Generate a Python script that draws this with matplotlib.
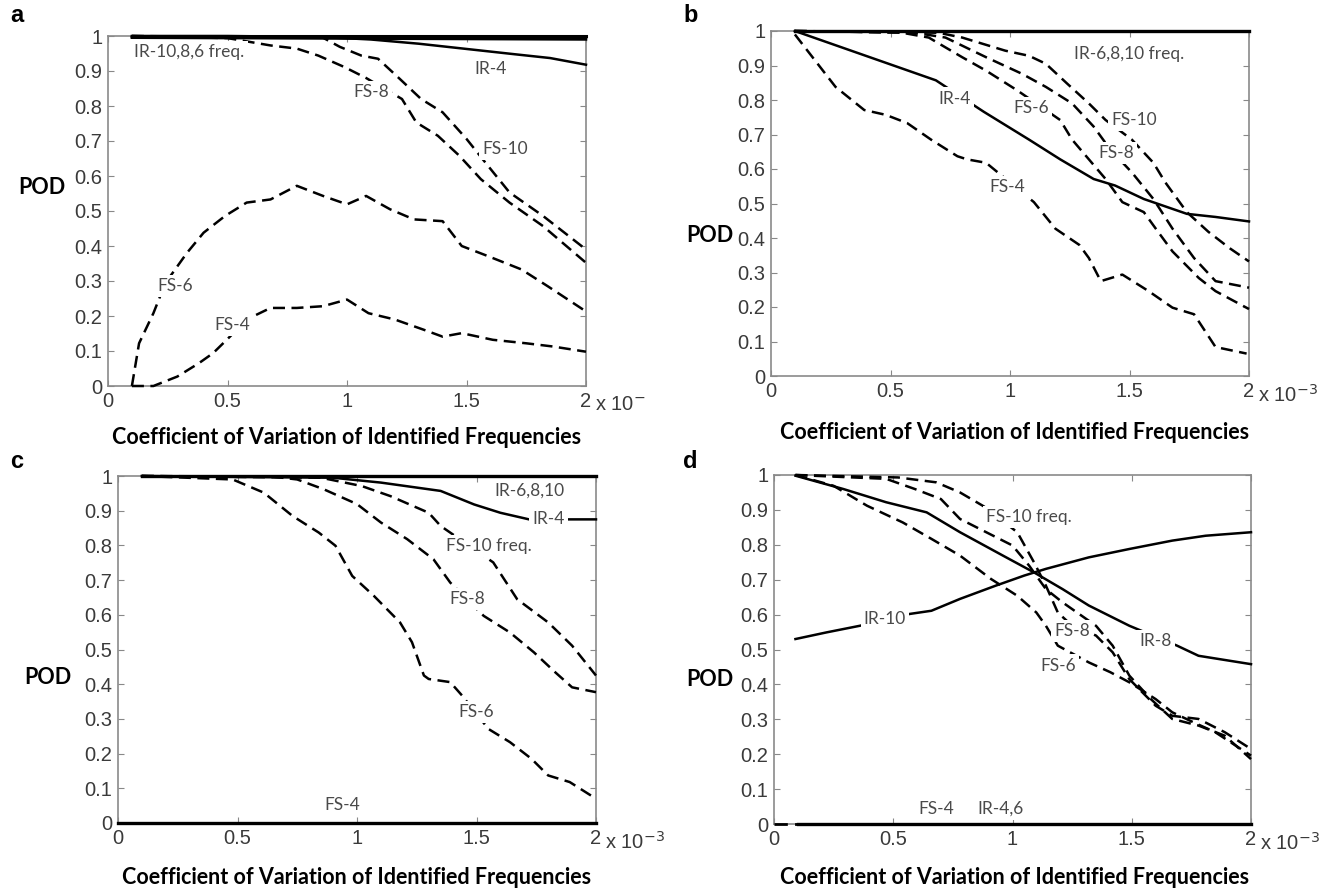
import numpy as np
import matplotlib.pyplot as plt

# ---- panel a ----
a_ir_x = [0.1, 2.0]
a_ir10 = [1.0, 1.0]
a_ir8 = [0.997, 0.995]
a_ir6 = [0.995, 0.99]
a_ir4_x = [0.1, 0.5, 0.9, 1.1, 1.3, 1.5, 1.7, 1.85, 2.0]
a_ir4_y = [1, 1, 0.997, 0.99, 0.978, 0.963, 0.948, 0.937, 0.918]
a_fs8_x = [0.1, 0.5, 0.68, 0.79, 0.88, 0.99, 1.08, 1.23, 1.29, 1.38, 1.47, 1.56, 1.68, 1.82, 2.0]
a_fs8_y = [1, 0.994, 0.973, 0.964, 0.944, 0.911, 0.88, 0.82, 0.753, 0.715, 0.658, 0.591, 0.524, 0.457, 0.352]
a_fs10_x = [0.1, 0.9, 0.97, 1.06, 1.13, 1.22, 1.31, 1.4, 1.5, 1.59, 1.68, 1.82, 2.0]
a_fs10_y = [1, 0.995, 0.969, 0.944, 0.935, 0.878, 0.82, 0.782, 0.706, 0.629, 0.553, 0.486, 0.39]
a_fs6_x = [0.1, 0.13, 0.19, 0.24, 0.33, 0.4, 0.49, 0.58, 0.68, 0.79, 0.9, 1.0, 1.08, 1.18, 1.28, 1.4,
           1.48, 1.59, 1.73, 1.84, 2.0]
a_fs6_y = [0, 0.122, 0.208, 0.294, 0.38, 0.438, 0.486, 0.524, 0.533, 0.572, 0.543, 0.519, 0.543, 0.505,
           0.476, 0.471, 0.4, 0.371, 0.333, 0.285, 0.213]
a_fs4_x = [0.1, 0.19, 0.29, 0.38, 0.44, 0.51, 0.58, 0.68, 0.79, 0.9, 1.0, 1.09, 1.2, 1.32, 1.4, 1.48,
           1.61, 1.75, 1.86, 2.0]
a_fs4_y = [0, 0, 0.027, 0.065, 0.094, 0.141, 0.19, 0.223, 0.223, 0.228, 0.247, 0.208, 0.19, 0.161,
           0.141, 0.151, 0.132, 0.122, 0.113, 0.098]

# ---- panel b ----
b_ir_x = [0.1, 2.0]
b_ir_y = [1.0, 1.0]
b_ir4_x = [0.1, 0.69, 0.89, 1.08, 1.21, 1.35, 1.44, 1.56, 1.74, 1.86, 2.0]
b_ir4_y = [1.0, 0.857, 0.766, 0.685, 0.628, 0.571, 0.552, 0.513, 0.47, 0.461, 0.448]
b_fs4_x = [0.1, 0.27, 0.39, 0.48, 0.57, 0.67, 0.78, 0.82, 0.9, 1.1, 1.19, 1.29, 1.33, 1.38, 1.47,
           1.58, 1.68, 1.77, 1.86, 1.99]
b_fs4_y = [0.99, 0.838, 0.771, 0.757, 0.733, 0.685, 0.637, 0.628, 0.618, 0.504, 0.427, 0.38, 0.342,
           0.275, 0.294, 0.246, 0.198, 0.179, 0.084, 0.065]
b_fs6_x = [0.1, 0.54, 0.66, 0.8, 0.9, 1.03, 1.21, 1.26, 1.33, 1.4, 1.47, 1.56, 1.61, 1.68, 1.79, 1.86, 2.0]
b_fs6_y = [1, 0.996, 0.981, 0.924, 0.885, 0.828, 0.742, 0.685, 0.628, 0.571, 0.504, 0.475, 0.427,
           0.361, 0.284, 0.246, 0.194]
b_fs8_x = [0.1, 0.6, 0.73, 0.9, 1.05, 1.15, 1.26, 1.35, 1.42, 1.51, 1.6, 1.68, 1.77, 1.86, 2.0]
b_fs8_y = [1, 0.995, 0.981, 0.924, 0.876, 0.838, 0.79, 0.723, 0.656, 0.59, 0.513, 0.427, 0.342, 0.275, 0.256]
b_fs10_x = [0.1, 0.7, 0.8, 0.98, 1.08, 1.15, 1.24, 1.33, 1.4, 1.51, 1.6, 1.65, 1.74, 1.83, 1.92, 2.0]
b_fs10_y = [1, 0.995, 0.981, 0.943, 0.928, 0.905, 0.847, 0.79, 0.742, 0.685, 0.618, 0.561, 0.475,
            0.418, 0.37, 0.332]

# ---- panel c ----
c_ir_x = [0.1, 2.0]
c_ir_y = [1.0, 1.0]
c_ir4_x = [0.1, 0.9, 1.1, 1.35, 1.49, 1.6, 1.72, 2.0]
c_ir4_y = [1, 0.995, 0.981, 0.957, 0.918, 0.894, 0.875, 0.875]
c_fs10_x = [0.1, 0.85, 1.02, 1.14, 1.25, 1.3, 1.35, 1.57, 1.67, 1.8, 1.9, 2.0]
c_fs10_y = [1, 0.995, 0.971, 0.942, 0.909, 0.894, 0.856, 0.751, 0.645, 0.578, 0.511, 0.425]
c_fs8_x = [0.1, 0.65, 0.75, 0.86, 1.0, 1.1, 1.21, 1.32, 1.39, 1.53, 1.64, 1.74, 1.83, 1.9, 2.0]
c_fs8_y = [1, 0.998, 0.99, 0.962, 0.919, 0.866, 0.818, 0.76, 0.693, 0.597, 0.549, 0.492, 0.434, 0.391, 0.377]
c_fs6_x = [0.1, 0.48, 0.61, 0.73, 0.84, 0.91, 0.98, 1.07, 1.18, 1.23, 1.28, 1.3, 1.39, 1.44, 1.55,
           1.64, 1.73, 1.8, 1.89, 2.0]
c_fs6_y = [1, 0.99, 0.952, 0.885, 0.837, 0.799, 0.712, 0.655, 0.578, 0.521, 0.425, 0.415, 0.406,
           0.367, 0.271, 0.233, 0.185, 0.137, 0.118, 0.07]
c_fs4_x = [0.0, 2.0]
c_fs4_y = [0.0, 0.0]

# ---- panel d ----
d_ir10_x = [0.09, 0.22, 0.36, 0.57, 0.66, 0.78, 0.93, 1.05, 1.14, 1.32, 1.49, 1.67, 1.81, 2.0]
d_ir10_y = [0.53, 0.549, 0.568, 0.602, 0.611, 0.645, 0.683, 0.712, 0.731, 0.764, 0.788, 0.812, 0.826, 0.836]
d_ir8_x = [0.09, 0.29, 0.47, 0.64, 0.78, 0.96, 1.09, 1.21, 1.32, 1.49, 1.69, 1.78, 2.0]
d_ir8_y = [0.998, 0.96, 0.922, 0.893, 0.836, 0.769, 0.721, 0.673, 0.626, 0.568, 0.511, 0.482, 0.458]
d_fs10_x = [0.09, 0.52, 0.68, 0.78, 0.88, 1.02, 1.09, 1.14, 1.19, 1.25, 1.35, 1.42, 1.49, 1.6, 1.67,
            1.78, 1.89, 2.0]
d_fs10_y = [1, 0.993, 0.979, 0.95, 0.91, 0.836, 0.75, 0.683, 0.606, 0.568, 0.54, 0.492, 0.415, 0.339,
            0.31, 0.301, 0.263, 0.215]
d_fs8_x = [0.09, 0.47, 0.59, 0.7, 0.78, 0.89, 1.0, 1.07, 1.14, 1.21, 1.35, 1.42, 1.49, 1.58, 1.67,
           1.78, 1.89, 2.0]
d_fs8_y = [1, 0.989, 0.96, 0.931, 0.874, 0.836, 0.798, 0.74, 0.673, 0.635, 0.568, 0.511, 0.425, 0.358,
           0.301, 0.282, 0.253, 0.186]
d_fs6_x = [0.09, 0.25, 0.39, 0.54, 0.66, 0.78, 0.91, 1.02, 1.1, 1.14, 1.19, 1.32, 1.41, 1.49, 1.6,
           1.67, 1.76, 1.85, 2.0]
d_fs6_y = [1, 0.969, 0.912, 0.864, 0.817, 0.769, 0.702, 0.654, 0.606, 0.568, 0.511, 0.463, 0.435,
           0.406, 0.358, 0.32, 0.291, 0.263, 0.196]
d_zero_x = [0.1, 2.0]
d_zero_y = [0.0, 0.0]

xticks = [0, 0.5, 1, 1.5, 2]
xticklabels = ['0', '0.5', '1', '1.5', '2']
yticks = [0, 0.1, 0.2, 0.3, 0.4, 0.5, 0.6, 0.7, 0.8, 0.9, 1]
yticklabels = ['0', '0.1', '0.2', '0.3', '0.4', '0.5', '0.6', '0.7', '0.8', '0.9', '1']

W, H = 1329, 892
DASH = (0, (4.8, 2.6))
LABFONT = ['Lato', 'DejaVu Sans']

fig = plt.figure(figsize=(W / 100, H / 100), dpi=100)


def make_ax(left, top, right, bottom):
    ax = fig.add_axes([left / W, 1 - bottom / H, (right - left) / W, (bottom - top) / H])
    ax.set_xlim(0, 2)
    ax.set_ylim(0, 1)
    ax.set_xticks(xticks)
    ax.set_xticklabels(xticklabels)
    ax.set_yticks(yticks)
    ax.set_yticklabels(yticklabels)
    ax.tick_params(direction='in', length=4, color='#888888', top=True, right=True,
                   labelsize=14.5, labelcolor='#3a3a3a', pad=4)
    for lab in ax.get_xticklabels() + ax.get_yticklabels():
        lab.set_family('Liberation Sans')
    for s in ax.spines.values():
        s.set_color('#8a8a8a')
        s.set_linewidth(1.2)
    return ax


def solid(ax, x, y, lw=1.8):
    ax.plot(x, y, color='black', lw=lw, clip_on=False, zorder=3)


def dashed(ax, x, y, lw=1.8):
    ax.plot(x, y, color='black', lw=lw, linestyle=DASH, clip_on=False, zorder=3)


def label(ax, x, y, s):
    ax.text(x, y, s, fontsize=12.5, color='#4a4a4a', family=LABFONT, ha='center', va='center',
            zorder=5, bbox=dict(facecolor='white', edgecolor='none', pad=2.2))


def frame_text(ax, letter, lx, ly, podx, pody, xlx, xly, exp):
    fig.text(lx / W, 1 - ly / H, letter, fontsize=17, weight='bold', family='Liberation Sans',
             ha='left', va='center')
    fig.text(podx / W, 1 - pody / H, 'POD', fontsize=15.5, weight='bold', family=LABFONT,
             ha='center', va='center')
    fig.text(xlx / W, 1 - xly / H, 'Coefficient of Variation of Identified Frequencies', fontsize=15.5,
             weight='bold', family=LABFONT, ha='center', va='center')
    ax.annotate(exp, xy=(1, 0), xycoords='axes fraction', xytext=(9, -19), textcoords='offset pixels',
                ha='left', va='center', fontsize=14.5, color='#3a3a3a', family='Liberation Sans')


# panel a
ax = make_ax(108, 36, 586, 386)
solid(ax, a_ir_x, a_ir10, lw=2.2)
solid(ax, a_ir_x, a_ir8)
solid(ax, a_ir_x, a_ir6)
solid(ax, a_ir4_x, a_ir4_y)
dashed(ax, a_fs8_x, a_fs8_y)
dashed(ax, a_fs10_x, a_fs10_y)
dashed(ax, a_fs6_x, a_fs6_y)
dashed(ax, a_fs4_x, a_fs4_y)
label(ax, 0.34, 0.955, 'IR-10,8,6 freq.')
label(ax, 1.6, 0.906, 'IR-4')
label(ax, 1.1, 0.84, 'FS-8')
label(ax, 1.66, 0.677, 'FS-10')
label(ax, 0.28, 0.285, 'FS-6')
label(ax, 0.52, 0.175, 'FS-4')
frame_text(ax, 'a', 10, 16, 42, 188, 347, 437, 'x 10$^{-}$')

# panel b
ax = make_ax(771, 31, 1249, 376)
solid(ax, b_ir_x, b_ir_y, lw=2.4)
solid(ax, b_ir4_x, b_ir4_y)
dashed(ax, b_fs4_x, b_fs4_y)
dashed(ax, b_fs6_x, b_fs6_y)
dashed(ax, b_fs8_x, b_fs8_y)
dashed(ax, b_fs10_x, b_fs10_y)
label(ax, 1.5, 0.933, 'IR-6,8,10 freq.')
label(ax, 0.77, 0.804, 'IR-4')
label(ax, 1.09, 0.776, 'FS-6')
label(ax, 1.52, 0.742, 'FS-10')
label(ax, 1.445, 0.647, 'FS-8')
label(ax, 0.99, 0.547, 'FS-4')
frame_text(ax, 'b', 683, 16, 710, 235, 1015, 432, 'x 10$^{-3}$')

# panel c
ax = make_ax(118, 476, 596, 823)
solid(ax, c_ir_x, c_ir_y, lw=2.4)
solid(ax, c_ir4_x, c_ir4_y)
dashed(ax, c_fs10_x, c_fs10_y)
dashed(ax, c_fs8_x, c_fs8_y)
dashed(ax, c_fs6_x, c_fs6_y)
solid(ax, c_fs4_x, c_fs4_y, lw=2.4)
label(ax, 1.72, 0.958, 'IR-6,8,10')
label(ax, 1.8, 0.875, 'IR-4')
label(ax, 1.55, 0.799, 'FS-10 freq.')
label(ax, 1.46, 0.645, 'FS-8')
label(ax, 1.5, 0.319, 'FS-6')
label(ax, 0.94, 0.051, 'FS-4')
frame_text(ax, 'c', 10, 461, 48, 678, 357, 878, 'x 10$^{-3}$')

# panel d
ax = make_ax(774, 475, 1251, 824)
solid(ax, d_ir10_x, d_ir10_y)
solid(ax, d_ir8_x, d_ir8_y)
dashed(ax, d_fs10_x, d_fs10_y)
dashed(ax, d_fs8_x, d_fs8_y)
dashed(ax, d_fs6_x, d_fs6_y)
dashed(ax, [0.0, 2.0], [0.0, 0.0], lw=2.0)
solid(ax, d_zero_x, d_zero_y, lw=2.4)
label(ax, 1.07, 0.879, 'FS-10 freq.')
label(ax, 0.465, 0.587, 'IR-10')
label(ax, 1.25, 0.554, 'FS-8')
label(ax, 1.6, 0.525, 'IR-8')
label(ax, 1.19, 0.454, 'FS-6')
label(ax, 0.68, 0.043, 'FS-4')
label(ax, 0.95, 0.043, 'IR-4,6')
frame_text(ax, 'd', 683, 461, 710, 680, 1015, 878, 'x 10$^{-3}$')

plt.savefig('out.png', dpi=100)
